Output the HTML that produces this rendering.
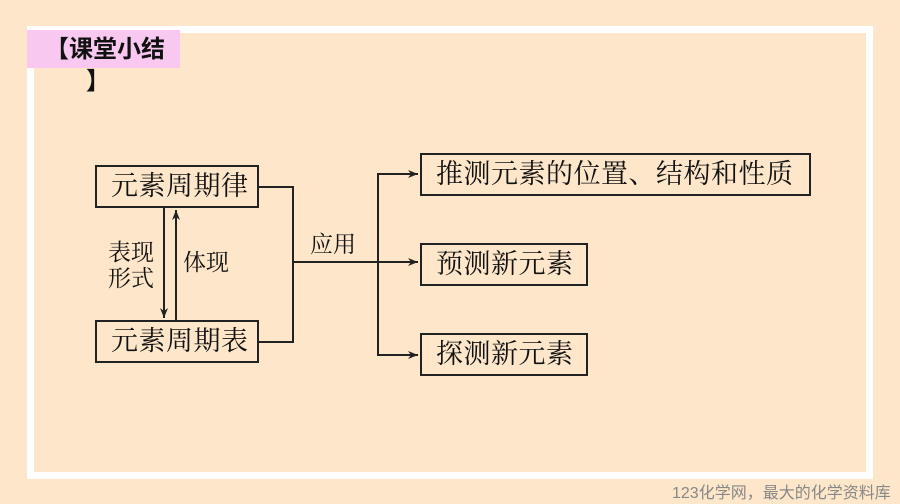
<!DOCTYPE html>
<html><head><meta charset="utf-8"><style>
html,body{margin:0;padding:0;}
body{width:900px;height:504px;background:#fde6c9;position:relative;overflow:hidden;font-family:"Liberation Serif","Noto Serif CJK SC",serif;}
.frame{position:absolute;left:27px;top:26px;width:832px;height:439px;border:7px solid #fff;}
.pink{position:absolute;left:27px;top:30px;width:153px;height:38px;background:#f9c8f0;}
.t{position:absolute;font-family:"Liberation Sans","Noto Sans CJK SC",sans-serif;font-weight:bold;font-size:24px;color:#111;white-space:nowrap;line-height:1;}
.box{position:absolute;border:2px solid #222;box-sizing:border-box;font-size:27px;letter-spacing:0.5px;color:#111;line-height:1;display:flex;align-items:center;padding-left:14px;white-space:nowrap;}
.lb{position:absolute;font-size:23px;color:#111;line-height:26px;white-space:nowrap;}
.foot{position:absolute;left:672px;top:479px;font-family:"Liberation Sans","Noto Sans CJK SC",sans-serif;font-size:16px;color:#888;white-space:nowrap;}
</style></head><body>
<div class="frame"></div>
<div class="pink"></div>
<div class="t" style="left:45px;top:38px;">【课堂小结</div>
<div class="t" style="left:86px;top:70px;">】</div>
<svg width="900" height="504" style="position:absolute;left:0;top:0">
<defs><marker id="a" markerWidth="10" markerHeight="8" refX="10" refY="4" orient="auto" markerUnits="userSpaceOnUse"><path d="M0,0 L10,4 L0,8 L3,4z" fill="#222"/></marker></defs>
<g stroke="#222" stroke-width="2" fill="none">
<line x1="164" y1="208" x2="164" y2="318" marker-end="url(#a)"/>
<line x1="176" y1="320" x2="176" y2="210" marker-end="url(#a)"/>
<polyline points="259,187 293,187 293,342 259,342"/>
<line x1="293" y1="262" x2="418" y2="262" marker-end="url(#a)"/>
<polyline points="378,262 378,174 418,174" marker-end="url(#a)"/>
<polyline points="378,262 378,355 418,355" marker-end="url(#a)"/>
</g>
</svg>
<div class="box" style="left:95px;top:165px;width:164px;height:43px;">元素周期律</div>
<div class="box" style="left:95px;top:320px;width:164px;height:43px;">元素周期表</div>
<div class="box" style="left:420px;top:153px;width:391px;height:43px;">推测元素的位置、结构和性质</div>
<div class="box" style="left:420px;top:243px;width:168px;height:43px;">预测新元素</div>
<div class="box" style="left:420px;top:333px;width:168px;height:43px;">探测新元素</div>
<div class="lb" style="left:108px;top:240px;">表现<br>形式</div>
<div class="lb" style="left:183px;top:250px;">体现</div>
<div class="lb" style="left:310px;top:232px;">应用</div>
<div class="foot">123化学网，最大的化学资料库</div>
</body></html>
